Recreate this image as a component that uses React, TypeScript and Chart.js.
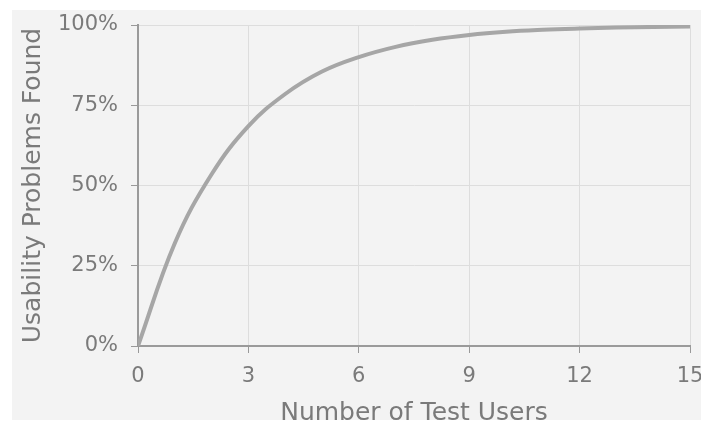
import React, { useEffect, useRef } from "react";
import { Chart, registerables } from "chart.js";

Chart.register(...registerables);

const users = [0, 1, 2, 3, 4, 5, 6, 7, 8, 9, 10, 11, 12, 13, 14, 15];
const problemsFound = [0, 0.32, 0.535, 0.685, 0.785, 0.855, 0.9, 0.932, 0.954, 0.969, 0.979, 0.985, 0.989, 0.992, 0.994, 0.995];
const xTitle = "Number of Test Users";
const yTitle = "Usability Problems Found";

const FONT = "'DejaVu Sans', Verdana, sans-serif";
const TEXT = "#7a7a7a";

const bgPlugin = {
  id: "bg",
  beforeDraw(chart: any) {
    const c = chart.ctx;
    c.save();
    c.fillStyle = "#ffffff";
    c.fillRect(0, 0, chart.width, chart.height);
    c.fillStyle = "#f3f3f3";
    c.fillRect(12, 10, chart.width - 12, chart.height - 18);
    c.restore();
  },
};

export default function App() {
  const ref = useRef<HTMLCanvasElement>(null);
  useEffect(() => {
    const canvas = ref.current!;
    const chart = new Chart(canvas, {
      type: "line",
      data: {
        datasets: [
          {
            data: users.map((u, i) => ({ x: u, y: problemsFound[i] })),
            borderColor: "#a6a6a6",
            borderWidth: 4,
            pointRadius: 0,
            tension: 0.4,
            fill: false,
          },
        ],
      },
      options: {
        responsive: false,
        animation: false,
        layout: { padding: { left: 8, right: 11, top: 25, bottom: 0 } },
        plugins: { legend: { display: false }, tooltip: { enabled: false } },
        scales: {
          x: {
            type: "linear",
            min: 0,
            max: 15,
            afterFit(scale: any) {
              scale.height = 82;
              scale.paddingLeft = 0;
              scale.paddingRight = 0;
            },
            ticks: {
              stepSize: 3,
              color: TEXT,
              padding: 11,
              font: { family: FONT, size: 21 },
              maxRotation: 0,
            },
            grid: { color: "#dddddd", lineWidth: 1, tickLength: 7, tickColor: "#999999" },
            border: { color: "#9a9a9a", width: 2 },
            title: {
              display: true,
              text: xTitle,
              color: TEXT,
              font: { family: FONT, size: 25 },
              padding: { top: 0, bottom: 0 },
            },
          },
          y: {
            min: 0,
            max: 1,
            afterFit(scale: any) {
              scale.width = 130;
              scale.paddingTop = 0;
              scale.paddingBottom = 0;
            },
            ticks: {
              stepSize: 0.25,
              color: TEXT,
              padding: 13,
              font: { family: FONT, size: 21 },
              callback: (v: any) => Math.round(Number(v) * 100) + "%",
            },
            grid: { color: "#dddddd", lineWidth: 1, tickLength: 7, tickColor: "#999999" },
            border: { color: "#9a9a9a", width: 2 },
            title: {
              display: true,
              text: yTitle,
              color: TEXT,
              font: { family: FONT, size: 25 },
              padding: { top: 10, bottom: 0 },
            },
          },
        },
      },
      plugins: [bgPlugin],
    } as any);
    return () => chart.destroy();
  }, []);
  return (
    <div style={{ position: "fixed", left: 0, top: 0, width: 701, height: 428 }}>
      <canvas ref={ref} width={701} height={428} style={{ display: "block" }} />
    </div>
  );
}
